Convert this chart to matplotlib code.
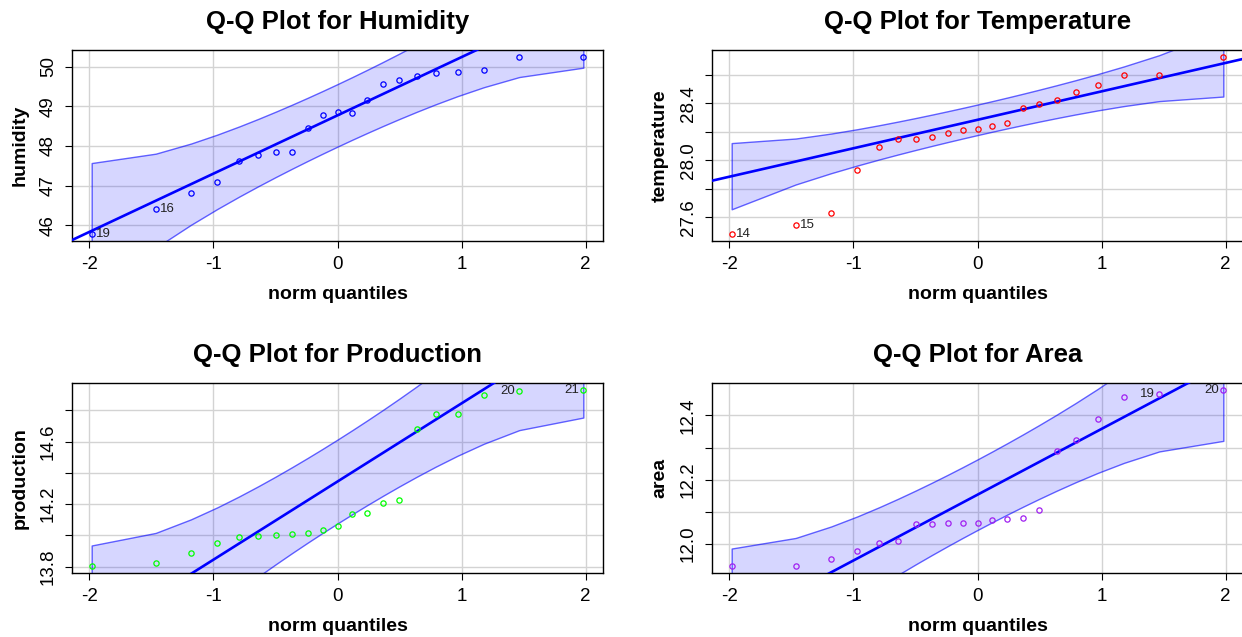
import numpy as np
import matplotlib
matplotlib.use("Agg")
from matplotlib import pyplot as plt

plt.rcParams['font.family'] = ['Liberation Sans', 'DejaVu Sans']

# theoretical normal quantiles for n = 21 (ppoints)
n = 21
zq = [-1.981, -1.465, -1.180, -0.967, -0.791, -0.637, -0.497, -0.366, -0.241, -0.120, 0.0,
      0.120, 0.241, 0.366, 0.497, 0.637, 0.791, 0.967, 1.180, 1.465, 1.981]

humidity = [45.78, 46.41, 46.82, 47.10, 47.63, 47.77, 47.84, 47.84, 48.44, 48.79, 48.85,
            48.84, 49.17, 49.55, 49.65, 49.77, 49.84, 49.86, 49.92, 50.24, 50.24]
temperature = [27.483, 27.546, 27.633, 27.931, 28.095, 28.151, 28.151, 28.163, 28.194, 28.210, 28.222,
               28.243, 28.264, 28.365, 28.398, 28.423, 28.482, 28.527, 28.602, 28.602, 28.726]
production = [13.805, 13.827, 13.888, 13.954, 13.990, 13.996, 14.003, 14.009, 14.013, 14.037, 14.062,
              14.138, 14.145, 14.206, 14.228, 14.680, 14.779, 14.779, 14.900, 14.924, 14.930]
area = [11.931, 11.931, 11.954, 11.978, 12.004, 12.010, 12.063, 12.063, 12.066, 12.066, 12.066,
        12.075, 12.077, 12.080, 12.106, 12.290, 12.323, 12.388, 12.456, 12.466, 12.479]

# robust line (intercept, slope)
fits = {'humidity': (48.77, 1.47), 'temperature': (28.285, 0.200),
        'production': (14.345, 0.50), 'area': (12.153, 0.205)}

# labelled points: (index in sorted order, label, side)
labels = {'humidity': [(0, '19', 'r'), (1, '16', 'r')],
          'temperature': [(0, '14', 'r'), (1, '15', 'r')],
          'production': [(19, '20', 'l'), (20, '21', 'l')],
          'area': [(19, '19', 'l'), (20, '20', 'l')]}

yticks = {'humidity': ([46, 47, 48, 49, 50], ['46', '47', '48', '49', '50']),
          'temperature': ([27.6, 27.8, 28.0, 28.2, 28.4, 28.6], ['27.6', '', '28.0', '', '28.4', '']),
          'production': ([13.8, 14.0, 14.2, 14.4, 14.6, 14.8], ['13.8', '', '14.2', '', '14.6', '']),
          'area': [[12.0, 12.1, 12.2, 12.3, 12.4], ['12.0', '', '12.2', '', '12.4']]}

titles = {'humidity': 'Q-Q Plot for Humidity', 'temperature': 'Q-Q Plot for Temperature',
          'production': 'Q-Q Plot for Production', 'area': 'Q-Q Plot for Area'}
colors = {'humidity': 'blue', 'temperature': 'red', 'production': '#00FF00', 'area': '#A020F0'}
series = {'humidity': humidity, 'temperature': temperature, 'production': production, 'area': area}

W, H = 1242, 637
fig = plt.figure(figsize=(W / 100, H / 100), dpi=100)

# axes boxes in pixels: left, top, right, bottom
boxes = {'humidity': (72, 50, 603, 241), 'temperature': (712, 50, 1243, 241),
         'production': (72, 383, 603, 573), 'area': (712, 383, 1243, 573)}


def qqpanel(ax, name):
    z = np.array(zq)
    y = np.array(series[name])
    a, b = fits[name]
    p = (np.arange(1, n + 1) - 0.5) / n
    dens = np.exp(-z ** 2 / 2) / np.sqrt(2 * np.pi)
    se = b / dens * np.sqrt(p * (1 - p) / n)
    fit = a + b * z
    ax.fill_between(z, fit - 1.96 * se, fit + 1.96 * se, facecolor=(0, 0, 1, 0.16),
                    edgecolor=(0, 0, 1, 0.6), linewidth=1.0, zorder=2)
    xr = 0.04 * (z.max() - z.min())
    xl = (z.min() - xr, z.max() + xr)
    ax.plot(xl, [a + b * xl[0], a + b * xl[1]], color='blue', lw=1.9, zorder=3)
    ax.plot(z, y, 'o', mfc='none', mec=colors[name], ms=3.8, mew=0.9, zorder=4)
    for i, lab, side in labels[name]:
        if side == 'r':
            ax.annotate(lab, (z[i], y[i]), xytext=(3, 0), textcoords='offset points',
                        ha='left', va='center', fontsize=9.5, color='#222222')
        else:
            ax.annotate(lab, (z[i], y[i]), xytext=(-3, 0), textcoords='offset points',
                        ha='right', va='center', fontsize=9.5, color='#222222')
    yr = 0.04 * (y.max() - y.min())
    ax.set_xlim(xl)
    ax.set_ylim(y.min() - yr, y.max() + yr)
    ax.set_xticks([-2, -1, 0, 1, 2])
    ax.set_xticklabels(['-2', '-1', '0', '1', '2'])
    ax.set_yticks(yticks[name][0])
    ax.set_yticklabels(yticks[name][1], rotation=90, va='center')
    ax.grid(True, color='#D3D3D3', lw=1.0, zorder=0)
    ax.set_axisbelow(True)
    ax.tick_params(direction='out', length=5, width=0.8, labelsize=13.5, pad=6)
    ax.set_title(titles[name], fontsize=18.5, fontweight='bold', pad=15)
    ax.set_xlabel('norm quantiles', fontsize=14, fontweight='bold', labelpad=9)
    ax.set_ylabel(name, fontsize=14, fontweight='bold', labelpad=8)
    for s in ax.spines.values():
        s.set_linewidth(1.0)


for name, (l, t, r, bt) in boxes.items():
    ax = fig.add_axes([l / W, 1 - bt / H, (r - l) / W, (bt - t) / H])
    qqpanel(ax, name)

fig.savefig('out.png', dpi=100)
